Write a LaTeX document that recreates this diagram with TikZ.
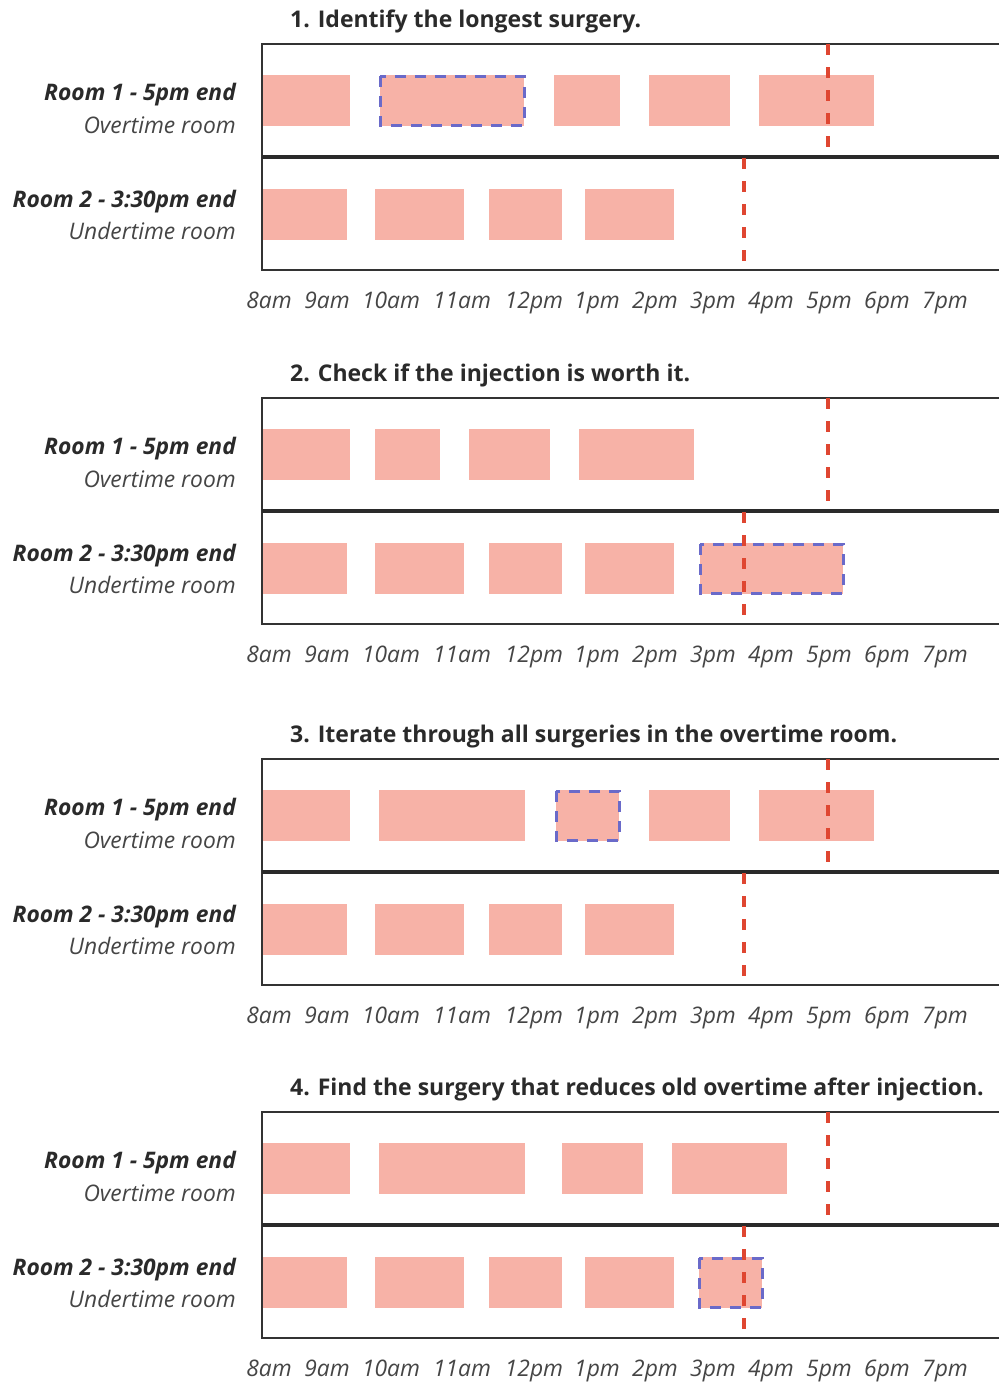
\documentclass[tikz,border=0pt]{standalone}
\usepackage{fontspec}
\setmainfont{Open Sans}

\definecolor{surgfill}{HTML}{F7B2A7}
\definecolor{pickblue}{HTML}{6A6AC9}
\definecolor{limitred}{HTML}{DF4631}
\definecolor{ink}{HTML}{2A2A2A}
\definecolor{softink}{HTML}{454545}
\definecolor{rule}{HTML}{333333}

\tikzset{
  surg/.style={fill=surgfill},
  pickbox/.style={draw=pickblue, line width=3pt, dash pattern=on 11pt off 9pt},
  endline/.style={draw=limitred, line width=3.2pt, dash pattern=on 11pt off 12pt},
  outerrule/.style={draw=rule, line width=2pt},
  midrule/.style={draw=ink, line width=3.6pt},
  steptitle/.style={anchor=base west, inner sep=0pt, text=ink, font=\fontsize{23}{27}\selectfont\bfseries},
  roomname/.style={anchor=base east, inner sep=0pt, text=ink, font=\fontsize{22.8}{27}\selectfont\bfseries\itshape},
  roomrole/.style={anchor=base east, inner sep=0pt, text=softink, font=\fontsize{22.8}{27}\selectfont\itshape},
  hour/.style={anchor=base, inner sep=0pt, text=softink, font=\fontsize{22.8}{27}\selectfont\itshape},
}

% one surgery block: #1 = start x, #2 = end x, #3 = row (1 or 2)
\newcommand\surgblock[3]{%
  \ifnum#3=1 \fill[surg] (#1,31) rectangle (#2,82);%
  \else \fill[surg] (#1,145) rectangle (#2,196);\fi}
% highlighted surgery outline
\newcommand\pickblock[3]{%
  \ifnum#3=1 \draw[pickbox] (#1,32) rectangle (#2,81);%
  \else \draw[pickbox] (#1,146) rectangle (#2,195);\fi}

% frame, end-of-day limits and all texts of one step
\newcommand\roomframe[2]{%
  \draw[outerrule] (999,0) -- (262,0) -- (262,226) -- (999,226);
  \draw[midrule] (262,113) -- (999,113);
  \draw[endline] (828,0) -- (828,104);
  \draw[endline] (744,114) -- (744,218);
  \node[steptitle] (title#1) at (290,-17) {#2};
  \node[roomname] (roomone#1) at (236,56) {Room 1 - 5pm end};
  \node[roomrole] (overtime#1) at (236,89) {Overtime room};
  \node[roomname] (roomtwo#1) at (236,163) {Room 2 - 3:30pm end};
  \node[roomrole] (undertime#1) at (236,195) {Undertime room};
  \foreach \t/\x in {8am/269, 9am/327, 10am/391, 11am/462, 12pm/534, 1pm/597,
                     2pm/655, 3pm/713, 4pm/771, 5pm/829, 6pm/887, 7pm/945}
    \node[hour] (hour#1-\t) at (\x,264) {\t};
}

\begin{document}
\begin{tikzpicture}[x=1pt, y=-1pt]
\useasboundingbox[fill=white] (0,0) rectangle (999,1385);

% step 1
\begin{scope}[shift={(0,44)}]
  \surgblock{262}{350}{1} \surgblock{380}{524}{1} \surgblock{554}{620}{1}
  \surgblock{649}{730}{1} \surgblock{759}{874}{1}
  \surgblock{262}{347}{2} \surgblock{375}{464}{2} \surgblock{489}{562}{2}
  \surgblock{585}{674}{2}
  \pickblock{380}{524}{1}
  \roomframe{1}{1. Identify the longest surgery.}
\end{scope}

% step 2
\begin{scope}[shift={(0,398)}]
  \surgblock{262}{350}{1} \surgblock{375}{440}{1} \surgblock{469}{550}{1}
  \surgblock{579}{694}{1}
  \surgblock{262}{347}{2} \surgblock{375}{464}{2} \surgblock{489}{562}{2}
  \surgblock{585}{674}{2} \surgblock{700}{843}{2}
  \pickblock{700}{843}{2}
  \roomframe{2}{2. Check if the injection is worth it.}
\end{scope}

% step 3
\begin{scope}[shift={(0,759)}]
  \surgblock{262}{350}{1} \surgblock{379}{525}{1} \surgblock{556}{619}{1}
  \surgblock{649}{730}{1} \surgblock{759}{874}{1}
  \surgblock{262}{347}{2} \surgblock{375}{464}{2} \surgblock{489}{562}{2}
  \surgblock{585}{674}{2}
  \pickblock{556}{619}{1}
  \roomframe{3}{3. Iterate through all surgeries in the overtime room.}
\end{scope}

% step 4
\begin{scope}[shift={(0,1112)}]
  \surgblock{262}{350}{1} \surgblock{379}{525}{1} \surgblock{562}{643}{1}
  \surgblock{672}{787}{1}
  \surgblock{262}{347}{2} \surgblock{375}{464}{2} \surgblock{489}{562}{2}
  \surgblock{585}{674}{2} \surgblock{699}{762}{2}
  \pickblock{699}{762}{2}
  \roomframe{4}{4. Find the surgery that reduces old overtime after injection.}
\end{scope}
\end{tikzpicture}
\end{document}
